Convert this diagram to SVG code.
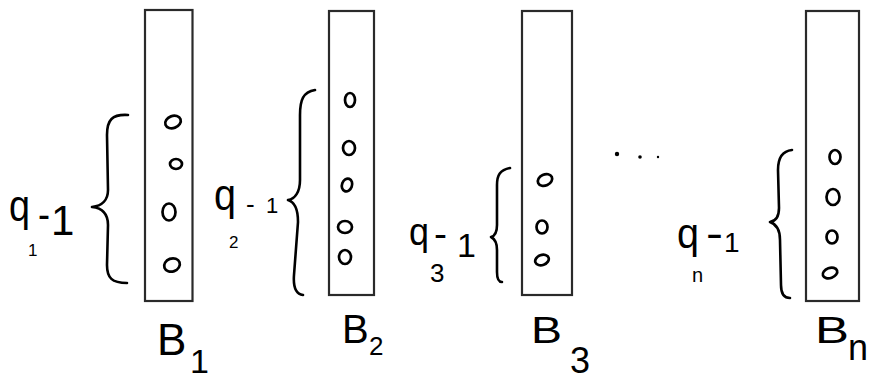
<svg xmlns="http://www.w3.org/2000/svg" width="875" height="383" viewBox="0 0 875 383">
  <style>
    .bin { fill: #fff; stroke: #2a2a2a; stroke-width: 2.2; }
    .ball { fill: none; stroke: #000; stroke-width: 2.7; }
    .brace { fill: none; stroke: #000; stroke-width: 2.6; stroke-linecap: round; stroke-linejoin: round; }
    .lbl { font-family: "Liberation Sans", Arial, sans-serif; fill: #000; }
    .dot { fill: #000; }
  </style>
  <rect width="875" height="383" fill="#fff"/>

  <!-- bin B1 -->
  <g id="bin1">
    <rect class="bin" x="145" y="10" width="47.5" height="291"/>
    <ellipse class="ball" cx="173" cy="122" rx="8" ry="6" transform="rotate(-20 173 122)"/>
    <ellipse class="ball" cx="176" cy="164" rx="6" ry="5"/>
    <ellipse class="ball" cx="169" cy="212" rx="6.5" ry="8.5"/>
    <ellipse class="ball" cx="172" cy="265" rx="8" ry="6.5" transform="rotate(-20 172 265)"/>
    <path class="brace" d="M128,115 C112,114 107,120 107,135 L108,190 C108,200 102,206 92,207 C102,208 108,214 108,225 L107,265 C107,278 112,283 127,283"/>
    <text class="lbl" x="9" y="221" font-size="44" textLength="21" lengthAdjust="spacingAndGlyphs">q</text>
    <text class="lbl" x="28" y="256" font-size="17">1</text>
    <text class="lbl" x="38" y="228" font-size="40" textLength="12" lengthAdjust="spacingAndGlyphs">-</text>
    <text class="lbl" x="51" y="235" font-size="42">1</text>
    <text class="lbl" x="157" y="355" font-size="44">B</text>
    <text class="lbl" x="190" y="373" font-size="34">1</text>
  </g>

  <!-- bin B2 -->
  <g id="bin2">
    <rect class="bin" x="329" y="11" width="45" height="284"/>
    <ellipse class="ball" cx="350" cy="100" rx="5" ry="7"/>
    <ellipse class="ball" cx="349" cy="148" rx="6" ry="7"/>
    <ellipse class="ball" cx="347" cy="185" rx="5" ry="6.5" transform="rotate(20 347 185)"/>
    <ellipse class="ball" cx="345" cy="227" rx="7" ry="6"/>
    <ellipse class="ball" cx="345" cy="257" rx="6" ry="7"/>
    <path class="brace" d="M315,90 C303,92 300,100 300,115 L300,180 C300,192 295,199 288,200 C295,202 298,210 298,222 L294,275 C293,288 296,294 303,295"/>
    <text class="lbl" x="214" y="210" font-size="44" textLength="22" lengthAdjust="spacingAndGlyphs">q</text>
    <text class="lbl" x="229" y="248" font-size="17">2</text>
    <text class="lbl" x="246" y="213" font-size="26">-</text>
    <text class="lbl" x="266" y="213" font-size="22">1</text>
    <text class="lbl" x="342" y="343" font-size="40">B</text>
    <text class="lbl" x="369" y="355" font-size="26">2</text>
  </g>

  <!-- bin B3 -->
  <g id="bin3">
    <rect class="bin" x="522" y="11" width="50" height="284"/>
    <ellipse class="ball" cx="545" cy="180" rx="7.5" ry="5.5" transform="rotate(-25 545 180)"/>
    <ellipse class="ball" cx="542" cy="227" rx="5.5" ry="6.5"/>
    <ellipse class="ball" cx="542" cy="260" rx="7" ry="5" transform="rotate(-20 542 260)"/>
    <path class="brace" d="M510,168 C500,170 497,175 497,185 L497,225 C497,232 495,236 491,237 C495,239 497,243 497,250 L497,272 C497,279 499,282 502,282"/>
    <text class="lbl" x="409" y="245" font-size="38" textLength="20" lengthAdjust="spacingAndGlyphs">q</text>
    <text class="lbl" x="430" y="282" font-size="26">3</text>
    <text class="lbl" x="434" y="246" font-size="36" textLength="13" lengthAdjust="spacingAndGlyphs">-</text>
    <text class="lbl" x="457" y="257" font-size="34">1</text>
    <text class="lbl" x="531" y="343" font-size="36" textLength="31" lengthAdjust="spacingAndGlyphs">B</text>
    <text class="lbl" x="570" y="373" font-size="36">3</text>
  </g>

  <!-- ellipsis between B3 and Bn -->
  <g id="ellipsis">
    <circle class="dot" cx="617" cy="154" r="2.2"/>
    <circle class="dot" cx="640" cy="157" r="1.8"/>
    <circle class="dot" cx="658" cy="157" r="1.2"/>
  </g>

  <!-- bin Bn -->
  <g id="binN">
    <rect class="bin" x="806" y="11" width="53" height="290"/>
    <ellipse class="ball" cx="835" cy="157" rx="5.5" ry="7"/>
    <ellipse class="ball" cx="833" cy="197" rx="6.5" ry="8"/>
    <ellipse class="ball" cx="832" cy="237" rx="5.5" ry="6.5"/>
    <ellipse class="ball" cx="830" cy="273" rx="7.5" ry="5" transform="rotate(-20 830 273)"/>
    <path class="brace" d="M792,150 C782,151 778,158 778,170 L779,208 C779,216 776,221 770,222 C776,224 780,230 780,240 L781,285 C781,294 784,298 790,298"/>
    <text class="lbl" x="677" y="248" font-size="42" textLength="22" lengthAdjust="spacingAndGlyphs">q</text>
    <text class="lbl" x="692" y="282" font-size="20">n</text>
    <text class="lbl" x="706" y="248" font-size="42" textLength="17" lengthAdjust="spacingAndGlyphs">-</text>
    <text class="lbl" x="724" y="252" font-size="28">1</text>
    <text class="lbl" x="815" y="343" font-size="36" textLength="34" lengthAdjust="spacingAndGlyphs">B</text>
    <text class="lbl" x="848" y="360" font-size="36">n</text>
  </g>
</svg>
